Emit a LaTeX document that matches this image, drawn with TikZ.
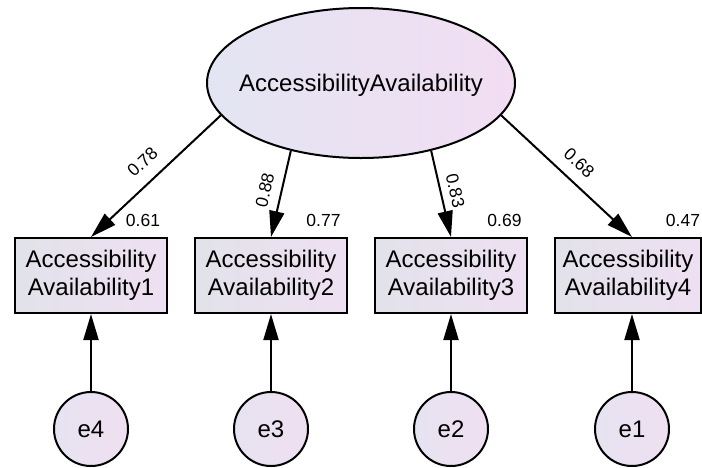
\documentclass[tikz,border=0pt]{standalone}
\usepackage{fontspec}
\setmainfont{Liberation Sans}
\usetikzlibrary{shapes.geometric,arrows.meta}
\definecolor{latL}{HTML}{E3E5F3}
\definecolor{latR}{HTML}{F2DDF3}
\definecolor{obsL}{HTML}{E2E2EA}
\definecolor{obsR}{HTML}{EEE0F2}
\definecolor{errL}{HTML}{E6E3F1}
\definecolor{errR}{HTML}{EFDFF1}
\begin{document}
\begin{tikzpicture}[x=1pt,y=-1pt,
  lat/.style={ellipse, draw, line width=2pt, left color=latL, right color=latR,
    minimum width=308pt, minimum height=150pt, inner sep=0pt},
  obs/.style={rectangle, draw, line width=2pt, left color=obsL, right color=obsR,
    minimum width=152pt, minimum height=75pt, align=center, inner sep=0pt,
    font=\fontsize{24}{28}\selectfont},
  err/.style={circle, draw, line width=2pt, left color=errL, right color=errR,
    minimum size=74pt, inner sep=0pt, font=\fontsize{24}{28}\selectfont},
  reg/.style={draw, line width=2pt, -{Triangle[length=26pt,width=15pt]}},
  coef/.style={font=\fontsize{17.5}{20}\selectfont, sloped, above, pos=0.5},
  var/.style={font=\fontsize{17.5}{20}\selectfont}]
\useasboundingbox (0,0) rectangle (702,467);
\clip (0,0) rectangle (702,467);
\fill[white] (0,0) rectangle (702,467);

\node[lat] (F) at (361,83) {};
\node[font=\fontsize{24}{28}\selectfont, yshift=-2.5pt] (Ft) at (F) {AccessibilityAvailability};

\node[obs] (b1) at (91,275.5) {Accessibility\\Availability1};
\node[obs] (b2) at (271,275.5) {Accessibility\\Availability2};
\node[obs] (b3) at (451,275.5) {Accessibility\\Availability3};
\node[obs, minimum width=146pt] (b4) at (628,275.5) {Accessibility\\Availability4};

\node[err] (e4) at (91,429) {e4};
\node[err] (e3) at (271,429) {e3};
\node[err] (e2) at (451,429) {e2};
\node[err] (e1) at (632,429) {e1};

\draw[reg] (F.193) -- node[coef, above=9pt] {0.78} (b1.north);
\draw[reg] (F.224) -- node[coef, above=6pt] {0.88} (b2.north);
\draw[reg] (F.316) -- node[coef, above=4pt] {0.83} (b3.north);
\draw[reg] (F.347) -- node[coef, above=8pt] {0.68} (e1 |- b4.north);

\draw[reg] (e4.north) -- (e4.north |- b1.south);
\draw[reg] (e3.north) -- (e3.north |- b2.south);
\draw[reg] (e2.north) -- (e2.north |- b3.south);
\draw[reg] (e1.north) -- (e1.north |- b4.south);

\node[var] (v1) at (143,220.5) {0.61};
\node[var] (v2) at (323.5,220.5) {0.77};
\node[var] (v3) at (504.5,220.5) {0.69};
\node[var] (v4) at (683,220.5) {0.47};
\end{tikzpicture}
\end{document}
